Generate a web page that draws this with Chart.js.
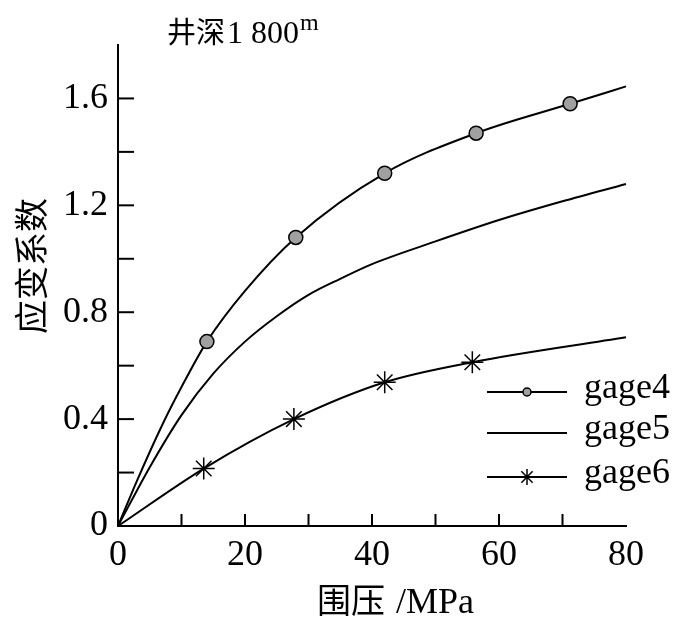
<!DOCTYPE html>
<html>
<head>
<meta charset="utf-8">
<script src="https://cdn.jsdelivr.net/npm/chart.js@4"></script>
<style>
  html, body { margin: 0; padding: 0; background: #fff; }
  #wrap { width: 684px; height: 620px; }
</style>
</head>
<body>
<div id="wrap"><canvas id="myChart" width="684" height="620"></canvas></div>
<script>
    // data
    const gage4X = [0, 3, 7, 10, 14, 20, 28, 42, 56.4, 71.2, 80];
    const gage4Y = [0, 0.17, 0.38, 0.52, 0.69, 0.88, 1.08, 1.32, 1.47, 1.58, 1.645];
    const gage4Marks = [0, 0, 0, 0, 1, 0, 1, 1, 1, 1, 0];

    const gage5X = [0, 5, 10, 15, 20, 25, 30, 35, 40, 50, 60, 70, 80];
    const gage5Y = [0, 0.22, 0.415, 0.57, 0.69, 0.785, 0.865, 0.925, 0.98, 1.065, 1.145, 1.215, 1.28];

    const gage6X = [0, 13.5, 27.7, 42, 55.8, 80];
    const gage6Y = [0, 0.215, 0.40, 0.538, 0.613, 0.706];
    const gage6Marks = [0, 1, 1, 1, 1, 0];

    const xTickLabels = [0, 20, 40, 60, 80];
    const yTickLabels = [0, 0.4, 0.8, 1.2, 1.6];

    const seriesNames = ['gage4', 'gage5', 'gage6'];

    const serif = '"Liberation Serif", "DejaVu Serif", serif';
    const cjk = '"Noto Sans CJK SC", "Liberation Serif", serif';

    function toPoints(xs, ys) {
        return xs.map((x, i) => ({ x: x, y: ys[i] }));
    }

    // tick labels, axis titles, chart title, inward tick marks and the legend
    const decorPlugin = {
        id: 'decor',
        afterDraw(chart) {
            const ctx = chart.ctx;
            const xs = chart.scales.x;
            const ys = chart.scales.y;
            ctx.save();
            ctx.strokeStyle = '#000';
            ctx.fillStyle = '#000';
            ctx.lineWidth = 2;

            // inward ticks
            xs.ticks.forEach(t => {
                if (t.value <= 0 || t.value >= 80) return;
                const px = xs.getPixelForValue(t.value);
                ctx.beginPath();
                ctx.moveTo(px, ys.bottom);
                ctx.lineTo(px, ys.bottom - 12);
                ctx.stroke();
            });
            ys.ticks.forEach(t => {
                if (t.value <= 0 || t.value > 1.65) return;
                const py = ys.getPixelForValue(t.value);
                ctx.beginPath();
                ctx.moveTo(xs.left, py);
                ctx.lineTo(xs.left + 16, py);
                ctx.stroke();
            });

            // tick labels
            ctx.font = '36px ' + serif;
            ctx.textBaseline = 'middle';
            ctx.textAlign = 'center';
            xTickLabels.forEach(v => {
                ctx.fillText(String(v), xs.getPixelForValue(v), ys.bottom + 30);
            });
            ctx.textAlign = 'right';
            yTickLabels.forEach(v => {
                ctx.fillText(v === 0 ? '0' : v.toFixed(1), xs.left - 10, ys.getPixelForValue(v));
            });

            // title
            ctx.textBaseline = 'alphabetic';
            ctx.textAlign = 'left';
            ctx.font = '29px ' + cjk;
            ctx.fillText('井深', 167, 43);
            ctx.font = '32px ' + serif;
            ctx.fillText('1 800', 227, 43);
            ctx.font = '24px ' + serif;
            ctx.fillText('m', 300, 30);

            // x title
            ctx.font = '34px ' + cjk;
            ctx.fillText('围压', 317, 613);
            ctx.font = '36px ' + serif;
            ctx.fillText('/MPa', 396, 613);

            // y title
            ctx.save();
            ctx.translate(31, 266);
            ctx.rotate(-Math.PI / 2);
            ctx.textAlign = 'center';
            ctx.textBaseline = 'middle';
            ctx.font = '34px ' + cjk;
            ctx.fillText('应变系数', 0, 0);
            ctx.restore();

            // legend
            const rows = [392, 433, 477];
            rows.forEach((ry, i) => {
                ctx.strokeStyle = '#000';
                ctx.lineWidth = 2;
                ctx.beginPath();
                ctx.moveTo(487, ry);
                ctx.lineTo(567, ry);
                ctx.stroke();
                if (i === 0) {
                    ctx.fillStyle = '#a0a0a0';
                    ctx.beginPath();
                    ctx.arc(527, ry, 4, 0, Math.PI * 2);
                    ctx.fill();
                    ctx.lineWidth = 1.5;
                    ctx.stroke();
                } else if (i === 2) {
                    const r = 8;
                    ctx.lineWidth = 1.5;
                    ctx.beginPath();
                    for (let k = 0; k < 4; k++) {
                        const a = Math.PI / 4 * k;
                        ctx.moveTo(527 - r * Math.cos(a), ry - r * Math.sin(a));
                        ctx.lineTo(527 + r * Math.cos(a), ry + r * Math.sin(a));
                    }
                    ctx.stroke();
                }
                ctx.fillStyle = '#000';
                ctx.font = '36px ' + serif;
                ctx.textAlign = 'left';
                ctx.textBaseline = 'middle';
                ctx.fillText(seriesNames[i], 584, ry - 3);
            });
            ctx.restore();
        }
    };

    const data = {
        datasets: [
            {
                label: seriesNames[0],
                data: toPoints(gage4X, gage4Y),
                borderColor: '#000',
                backgroundColor: '#a0a0a0',
                borderWidth: 2,
                pointRadius: gage4Marks.map(m => m ? 7 : 0),
                pointBorderWidth: 1.5,
                pointBorderColor: '#000',
                pointStyle: 'circle',
                cubicInterpolationMode: 'monotone',
            },
            {
                label: seriesNames[1],
                data: toPoints(gage5X, gage5Y),
                borderColor: '#000',
                borderWidth: 2,
                pointRadius: 0,
                cubicInterpolationMode: 'monotone',
            },
            {
                label: seriesNames[2],
                data: toPoints(gage6X, gage6Y),
                borderColor: '#000',
                backgroundColor: '#000',
                borderWidth: 2,
                pointRadius: gage6Marks.map(m => m ? 11 : 0),
                pointBorderWidth: 1.5,
                pointBorderColor: '#000',
                pointStyle: 'star',
                cubicInterpolationMode: 'monotone',
            },
        ],
    };

    const ctx = document.getElementById('myChart').getContext('2d');
    const chart = new Chart(ctx, {
        type: 'line',
        data: data,
        plugins: [decorPlugin],
        options: {
            responsive: false,
            animation: false,
            clip: false,
            layout: { padding: { left: 118, top: 45, right: 58, bottom: 94 } },
            plugins: {
                legend: { display: false },
                title: { display: false },
                tooltip: { enabled: false },
            },
            scales: {
                x: {
                    type: 'linear',
                    min: 0,
                    max: 80,
                    afterFit: s => { s.height = 0; },
                    border: { display: true, color: '#000', width: 2 },
                    grid: { display: false, drawTicks: false },
                    ticks: { stepSize: 10, autoSkip: false, display: false },
                },
                y: {
                    type: 'linear',
                    min: 0,
                    max: 1.8,
                    afterFit: s => { s.width = 0; },
                    border: { display: true, color: '#000', width: 2 },
                    grid: { display: false, drawTicks: false },
                    ticks: { stepSize: 0.2, autoSkip: false, display: false },
                },
            },
        },
    });
</script>
</body>
</html>
